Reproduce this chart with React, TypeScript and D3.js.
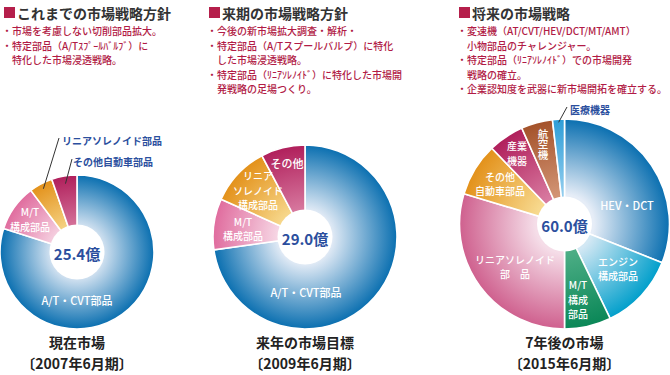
import React, { useEffect, useRef } from "react";
import * as d3 from "d3";

// ---- data ----
const currentCategories = ["A/T・CVT部品", "M/T構成部品", "リニアソレノイド部品", "その他自動車部品"];
const currentValues = [20.3, 2.5, 1.25, 1.35];
const currentLabelLines = [["A/T・CVT部品"], ["M/T", "構成部品"], ["リニアソレノイド部品"], ["その他自動車部品"]];

const nextCategories = ["A/T・CVT部品", "M/T構成部品", "リニアソレノイド構成部品", "その他"];
const nextValues = [21.1, 2.6, 3.05, 2.25];
const nextLabelLines = [["A/T・CVT部品"], ["M/T", "構成部品"], ["リニア", "ソレノイド", "構成部品"], ["その他"]];

const futureCategories = [
  "HEV・DCT", "エンジン構成部品", "M/T構成部品", "リニアソレノイド部品",
  "その他自動車部品", "産業機器", "航空機", "医療機器",
];
const futureValues = [18.6, 7.1, 4.3, 17.8, 4.9, 3.3, 2.9, 1.1];
const futureLabelLines = [
  ["HEV・DCT"], ["エンジン", "構成部品"], ["M/T", "構成", "部品"], ["リニアソレノイド", "部　品"],
  ["その他", "自動車部品"], ["産業", "機器"], ["航空機"], ["医療機器"],
];

const headings = ["これまでの市場戦略方針", "来期の市場戦略方針", "将来の市場戦略"];
const bullets = [
  [["市場を考慮しない切削部品拡大。"], ["特定部品（A/Tｽﾌﾟｰﾙﾊﾞﾙﾌﾞ）に", "特化した市場浸透戦略。"]],
  [
    ["今後の新市場拡大調査・解析・"],
    ["特定部品（A/Tスプールバルブ）に特化", "した市場浸透戦略。"],
    ["特定部品（ﾘﾆｱｿﾚﾉｲﾄﾞ）に特化した市場開", "発戦略の足場つくり。"],
  ],
  [
    ["変速機（AT/CVT/HEV/DCT/MT/AMT）", "小物部品のチャレンジャー。"],
    ["特定部品（ﾘﾆｱｿﾚﾉｲﾄﾞ）での市場開発", "戦略の確立。"],
    ["企業認知度を武器に新市場開拓を確立する。"],
  ],
];
const pieTitles = [
  ["現在市場", "〔2007年6月期〕"],
  ["来年の市場目標", "〔2009年6月期〕"],
  ["7年後の市場", "〔2015年6月期〕"],
];

// ---- colours [outer, inner] ----
const C = {
  blue: ["#0a6fb0", "#e6edf7"],
  pink: ["#e06c9e", "#f7d9e6"],
  orange: ["#e3911a", "#f7d98e"],
  magenta: ["#b01f5b", "#d87aa0"],
  cyan: ["#019fcb", "#d3e8f4"],
  green: ["#0a8757", "#4cad85"],
  rose: ["#cf608e", "#f5dde8"],
  brown: ["#a4522a", "#d29474"],
  sky: ["#2d9dd7", "#92cdee"],
};

const FONT = "'Noto Sans CJK JP', 'Noto Sans', sans-serif";
const TEXT_RED = "#b11b46";
const LABEL_BLUE = "#2b4f9e";

// label layout relative to pie centre; `out` = callout with leader line
type Place = {
  dx: number;
  dy: number;
  lh?: number;
  size?: number;
  vertical?: boolean;
  out?: { r: number; tx: number; ty: number };
};

const pies = [
  {
    cats: currentCategories, values: currentValues, lines: currentLabelLines,
    cx: 77, cy: 252, r: 77,
    colors: [C.blue, C.pink, C.orange, C.magenta],
    places: [
      { dx: 0, dy: 48, size: 11 },
      { dx: -47, dy: -33 },
      { dx: -15, dy: -112, out: { r: 0.93, tx: -18, ty: -114 } },
      { dx: -4, dy: -91, out: { r: 0.9, tx: -5, ty: -93 } },
    ] as Place[],
  },
  {
    cats: nextCategories, values: nextValues, lines: nextLabelLines,
    cx: 305, cy: 237, r: 92,
    colors: [C.blue, C.pink, C.orange, C.magenta],
    places: [
      { dx: 1, dy: 55, size: 11 },
      { dx: -62, dy: -8.5 },
      { dx: -47, dy: -47 },
      { dx: -18, dy: -74, size: 11 },
    ] as Place[],
  },
  {
    cats: futureCategories, values: futureValues, lines: futureLabelLines,
    cx: 564.5, cy: 224, r: 105,
    colors: [C.blue, C.cyan, C.green, C.rose, C.orange, C.magenta, C.brown, C.sky],
    places: [
      { dx: 62.5, dy: -19, size: 11 },
      { dx: 53.5, dy: 44.5 },
      { dx: 13.5, dy: 75 },
      { dx: -49.5, dy: 42.5 },
      { dx: -64.5, dy: -40.5 },
      { dx: -47.5, dy: -71.5, lh: 15 },
      { dx: -21.5, dy: -79.5, size: 10.5, vertical: true },
      { dx: 5.5, dy: -115, out: { r: 0.97, tx: 2.5, ty: -117 } },
    ] as Place[],
  },
];

const colX = [2, 207, 457];

const App = () => {
  const svgRef = useRef<SVGSVGElement>(null);

  useEffect(() => {
    const svg = d3.select(svgRef.current);
    svg.selectAll("*").remove();
    const defs = svg.append("defs");

    // headings and bullet notes
    headings.forEach((h, k) => {
      const x = colX[k];
      svg.append("rect").attr("x", x + 2).attr("y", 7).attr("width", 11).attr("height", 11).attr("fill", "#b51f4b");
      svg
        .append("text")
        .attr("x", x + 15)
        .attr("y", 12.5)
        .attr("dominant-baseline", "central")
        .style("font-family", FONT)
        .style("font-size", "14px")
        .style("font-weight", "bold")
        .style("fill", "#333")
        .text(h);

      let row = 0;
      bullets[k].forEach((b) => {
        const t = svg
          .append("text")
          .style("font-family", FONT)
          .style("font-size", "10px")
          .style("font-weight", "500")
          .style("fill", TEXT_RED);
        b.forEach((line, li) => {
          t.append("tspan")
            .attr("x", li === 0 ? x : x + 10)
            .attr("y", 30.5 + row * 14.5)
            .attr("dominant-baseline", "central")
            .text(li === 0 ? "・" + line : line);
          row++;
        });
      });
    });

    pies.forEach((p, k) => {
      const g = svg.append("g").attr("transform", `translate(${p.cx},${p.cy})`);
      const pie = d3.pie<number>().sort(null).value((d) => d);
      const arcs = pie(p.values);
      const arc = d3.arc<d3.PieArcDatum<number>>().innerRadius(0).outerRadius(p.r);

      p.colors.forEach((c, i) => {
        const grad = defs
          .append("radialGradient")
          .attr("id", `pg${k}-${i}`)
          .attr("gradientUnits", "userSpaceOnUse")
          .attr("cx", 0)
          .attr("cy", 0)
          .attr("r", p.r);
        grad.append("stop").attr("offset", 0.28).attr("stop-color", c[1]);
        grad.append("stop").attr("offset", 1).attr("stop-color", c[0]);
      });

      g.selectAll("path.slice")
        .data(arcs)
        .enter()
        .append("path")
        .attr("class", "slice")
        .attr("d", arc)
        .attr("fill", (d, i) => `url(#pg${k}-${i})`)
        .attr("stroke", "#fff")
        .attr("stroke-width", 1.6);

      g.append("circle").attr("r", 27.5).attr("fill", "#fff");

      g.append("text")
        .attr("text-anchor", "middle")
        .attr("dominant-baseline", "central")
        .attr("y", 1)
        .style("font-family", FONT)
        .style("font-size", "15px")
        .style("font-weight", "bold")
        .style("fill", LABEL_BLUE)
        .text(`${d3.sum(p.values).toFixed(1)}億`);

      arcs.forEach((a, i) => {
        const pl = p.places[i];
        const lines = p.lines[i];
        if (pl.out) {
          const rr = p.r * pl.out.r;
          const inner = d3.arc<d3.PieArcDatum<number>>().innerRadius(rr).outerRadius(rr).centroid(a);
          g.append("line")
            .attr("x1", inner[0])
            .attr("y1", inner[1])
            .attr("x2", pl.out.tx)
            .attr("y2", pl.out.ty)
            .attr("stroke", "#333")
            .attr("stroke-width", 1);
          g.append("text")
            .attr("x", pl.dx)
            .attr("y", pl.dy)
            .attr("dominant-baseline", "central")
            .style("font-family", FONT)
            .style("font-size", "10px")
            .style("font-weight", "bold")
            .style("fill", LABEL_BLUE)
            .text(lines[0]);
          return;
        }
        const size = pl.size ?? 10;
        if (pl.vertical) {
          g.append("text")
            .attr("x", pl.dx)
            .attr("y", pl.dy)
            .attr("writing-mode", "vertical-rl")
            .attr("text-anchor", "middle")
            .style("font-family", FONT)
            .style("font-size", `${size}px`)
            .style("font-weight", "500")
            .style("fill", "#fff")
            .text(lines[0]);
          return;
        }
        const lh = pl.lh ?? 14.5;
        const t = g
          .append("text")
          .attr("text-anchor", "middle")
          .style("font-family", FONT)
          .style("font-size", `${size}px`)
          .style("font-weight", "500")
          .style("fill", "#fff");
        lines.forEach((ln, li) => {
          t.append("tspan")
            .attr("x", pl.dx)
            .attr("y", pl.dy + (li - (lines.length - 1) / 2) * lh)
            .attr("dominant-baseline", "central")
            .text(ln);
        });
      });

      const tt = svg
        .append("text")
        .attr("text-anchor", "middle")
        .style("font-family", FONT)
        .style("font-size", "14px")
        .style("font-weight", "bold")
        .style("fill", "#222");
      pieTitles[k].forEach((t, li) => {
        tt.append("tspan")
          .attr("x", p.cx)
          .attr("y", 342 + li * 20.5)
          .attr("dominant-baseline", "central")
          .text(t);
      });
    });
  }, []);

  return (
    <svg
      ref={svgRef}
      width={670}
      height={375}
      style={{ position: "absolute", left: 0, top: 0, background: "#fff" }}
    ></svg>
  );
};

export default App;
